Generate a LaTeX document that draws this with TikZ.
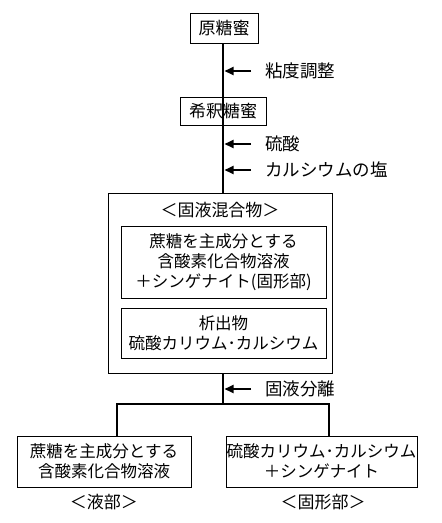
\documentclass[tikz,border=0pt]{standalone}
\usepackage{fontspec}
\setmainfont{Noto Sans CJK JP}
\usetikzlibrary{arrows.meta}

\begin{document}
\begin{tikzpicture}[x=1pt,y=-1pt]
    \tikzset{Box/.style={draw, line width=0.8pt, inner sep=0pt, align=center,
                         font=\fontsize{16.5}{20}\selectfont},
             Flow/.style={line width=2.4pt},
             Feed/.style={line width=2pt, -{Triangle[length=9pt,width=8pt]}},
             Note/.style={anchor=west, inner sep=0pt, font=\fontsize{17.5}{20}\selectfont},
             Tag/.style={inner sep=0pt, font=\fontsize{17}{20}\selectfont}}
    \useasboundingbox (0,0) rectangle (442,523);
        \node[Box, minimum width=68pt, minimum height=30pt, font=\fontsize{17}{20}\selectfont] (raw) at (224,28) {原糖蜜};
        \node[Box, minimum width=86pt, minimum height=28pt, font=\fontsize{17}{20}\selectfont] (dil) at (223,111) {希釈糖蜜};
        \node[Box, minimum width=224pt, minimum height=180pt] (mix) at (220,283) {};
        \node[Tag] (mixtag) at (220,210) {＜固液混合物＞};
        \node[Box, minimum width=205pt, minimum height=72pt] (liqin) at (223.5,262)
            {蔗糖を主成分とする\\含酸素化合物溶液\\＋シンゲナイト(固形部)};
        \node[Box, minimum width=205pt, minimum height=50pt] (ppt) at (223.5,333)
            {析出物\\硫酸カリウム･カルシウム};
        \node[Box, minimum width=174pt, minimum height=51pt] (liq) at (104,461.5)
            {蔗糖を主成分とする\\含酸素化合物溶液};
        \node[Box, minimum width=191pt, minimum height=51pt] (sol) at (321.5,461.5)
            {硫酸カリウム･カルシウム\\＋シンゲナイト};
        \node[Tag] (liqtag) at (104,502) {＜液部＞};
        \node[Tag] (soltag) at (323,502) {＜固形部＞};
        % main line
        \draw[Flow] (raw.south -| 223,0) -- (dil.south -| 223,0);
        \draw[Flow] (dil.south -| 223,0) -- (mix.north -| 223,0);
        \coordinate (split) at (223,404);
        \coordinate (left) at (117,404);
        \coordinate (right) at (329,404);
        \draw[Flow] (mix.south -| split) -- (split);
        \draw[Flow] (left |- liq.north) -- (left) -- (right) -- (right |- sol.north);
        % additions
        \node[Note] (visc) at (265,71) {粘度調整};
        \node[Note] (acid) at (265,144) {硫酸};
        \node[Note] (salt) at (265,170) {カルシウムの塩};
        \node[Note] (sep) at (265,389) {固液分離};
        \foreach \n in {visc,acid,salt,sep}
            \draw[Feed] (\n.west) ++(-14,0) coordinate (\n-from) -- (\n-from -| 224.5,0);
\end{tikzpicture}
\end{document}
